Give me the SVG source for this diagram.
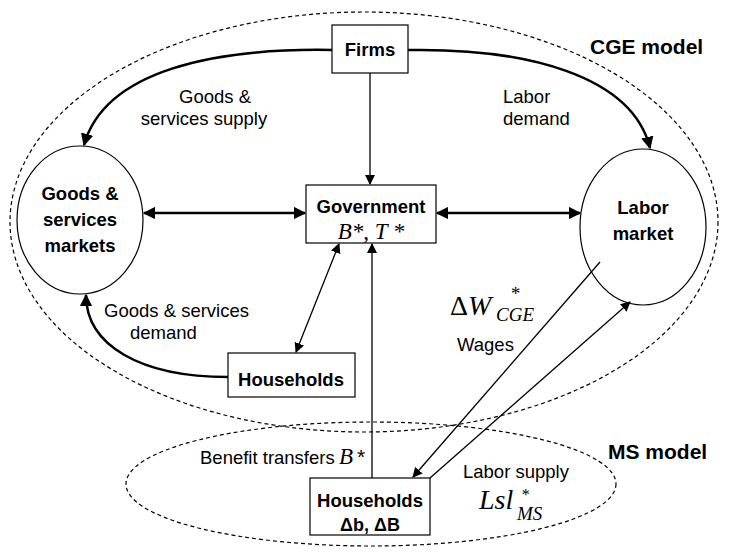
<svg xmlns="http://www.w3.org/2000/svg" width="729" height="557" viewBox="0 0 729 557">
<style>
.t{font-family:"Liberation Sans",Arial,sans-serif;font-size:18.5px;fill:#000}
.b{font-family:"Liberation Sans",Arial,sans-serif;font-size:18.5px;font-weight:bold;fill:#000}
.mb{font-family:"Liberation Sans",Arial,sans-serif;font-size:21px;font-weight:bold;fill:#000}
.m{font-family:"Liberation Serif","Times New Roman",serif;font-style:italic;font-size:23px;fill:#000}
.ml{font-family:"Liberation Serif","Times New Roman",serif;font-style:italic;font-size:28px;fill:#000}
.s{font-family:"Liberation Serif","Times New Roman",serif;font-style:italic;font-size:19px;fill:#000}
.box{fill:#fff;stroke:#000;stroke-width:1.2}
.circ{fill:#fff;stroke:#000;stroke-width:1.2}
.dash{fill:none;stroke:#000;stroke-width:1.2;stroke-dasharray:4 3}
.thick{fill:none;stroke:#000;stroke-width:2.5}
.thin{fill:none;stroke:#000;stroke-width:1.3}
</style>
<defs>
<marker id="ah" viewBox="0 0 10 10" refX="9" refY="5" markerWidth="10" markerHeight="10" markerUnits="userSpaceOnUse" orient="auto-start-reverse"><path d="M0,0 L10,5 L0,10 z" fill="#000"/></marker>
<marker id="ahk" viewBox="0 0 10 10" refX="9" refY="5" markerWidth="5" markerHeight="5" orient="auto-start-reverse"><path d="M0,0 L10,5 L0,10 z" fill="#000"/></marker>
</defs>
<g id="cge-boundary">
<ellipse class="dash" cx="364" cy="222" rx="354" ry="210"/>
<text class="mb" x="590" y="54">CGE model</text>
</g>
<g id="ms-boundary">
<ellipse class="dash" cx="371" cy="484" rx="245" ry="62"/>
<text class="mb" x="608" y="459">MS model</text>
</g>
<g id="goods-markets">
<ellipse class="circ" cx="80" cy="220" rx="63" ry="74"/>
<text class="b" text-anchor="middle"><tspan x="80" y="200">Goods &amp;</tspan><tspan x="80" y="226">services</tspan><tspan x="80" y="252">markets</tspan></text>
</g>
<g id="labor-market">
<ellipse class="circ" cx="643" cy="227" rx="63" ry="78"/>
<text class="b" text-anchor="middle"><tspan x="643" y="214">Labor</tspan><tspan x="643" y="240">market</tspan></text>
</g>
<g id="connectors">
<path class="thick" d="M332,50 C215,48 105,70 84,145" marker-end="url(#ahk)"/>
<path class="thick" d="M408,50 C525,48 632,75 650,148" marker-end="url(#ahk)"/>
<path class="thin" d="M370,73 L370,184" marker-end="url(#ah)"/>
<path class="thick" d="M144,213 L305,213" marker-start="url(#ahk)" marker-end="url(#ahk)"/>
<path class="thick" d="M437,213 L580,213" marker-start="url(#ahk)" marker-end="url(#ahk)"/>
<path class="thin" d="M339,244 L296,352" marker-start="url(#ah)" marker-end="url(#ah)"/>
<path class="thin" d="M372,478 L372,244" marker-end="url(#ah)"/>
<path class="thick" d="M228,377 C140,377 86,345 86,295" marker-end="url(#ahk)"/>
<path class="thin" d="M600,262 L413,477" marker-end="url(#ah)"/>
<path class="thin" d="M430,478 L630,302" marker-end="url(#ah)"/>
</g>
<g id="firms">
<rect class="box" x="332" y="25" width="76" height="48"/>
<text class="b" x="370" y="56" text-anchor="middle">Firms</text>
</g>
<g id="government">
<rect class="box" x="306" y="185" width="130" height="58"/>
<text class="b" x="371" y="213" text-anchor="middle">Government</text>
<text class="m" x="371" y="239" text-anchor="middle">B*, T *</text>
</g>
<g id="households-cge">
<rect class="box" x="228" y="353" width="127" height="44"/>
<text class="b" x="291" y="386" text-anchor="middle">Households</text>
</g>
<g id="households-ms">
<rect class="box" x="310" y="478" width="120" height="57"/>
<text class="b" x="370" y="507" text-anchor="middle">Households</text>
<text class="b" x="370" y="531" text-anchor="middle" style="font-size:18px">Δb, ΔB</text>
</g>
<g id="labels">
<text class="t" text-anchor="middle"><tspan x="215" y="103">Goods &amp;</tspan><tspan x="204" y="125">services supply</tspan></text>
<text class="t"><tspan x="503" y="103">Labor</tspan><tspan x="503" y="125">demand</tspan></text>
<text class="t"><tspan x="104" y="317">Goods &amp; services</tspan><tspan x="130" y="339">demand</tspan></text>
<text class="t" x="457" y="351">Wages</text>
<text class="ml" x="450" y="315"><tspan font-style="normal">Δ</tspan>W</text>
<text class="s" x="510" y="300">*</text>
<text class="s" x="496" y="321">CGE</text>
<text class="t" x="200" y="464">Benefit transfers</text>
<text class="m" x="339" y="464">B</text>
<text class="t" x="357" y="464" style="font-size:21px">*</text>
<text class="t" x="463" y="478">Labor supply</text>
<text class="ml" x="479" y="509">Lsl</text>
<text class="s" x="521" y="500" style="font-size:16px">*</text>
<text class="s" x="517" y="520">MS</text>
</g>
</svg>
